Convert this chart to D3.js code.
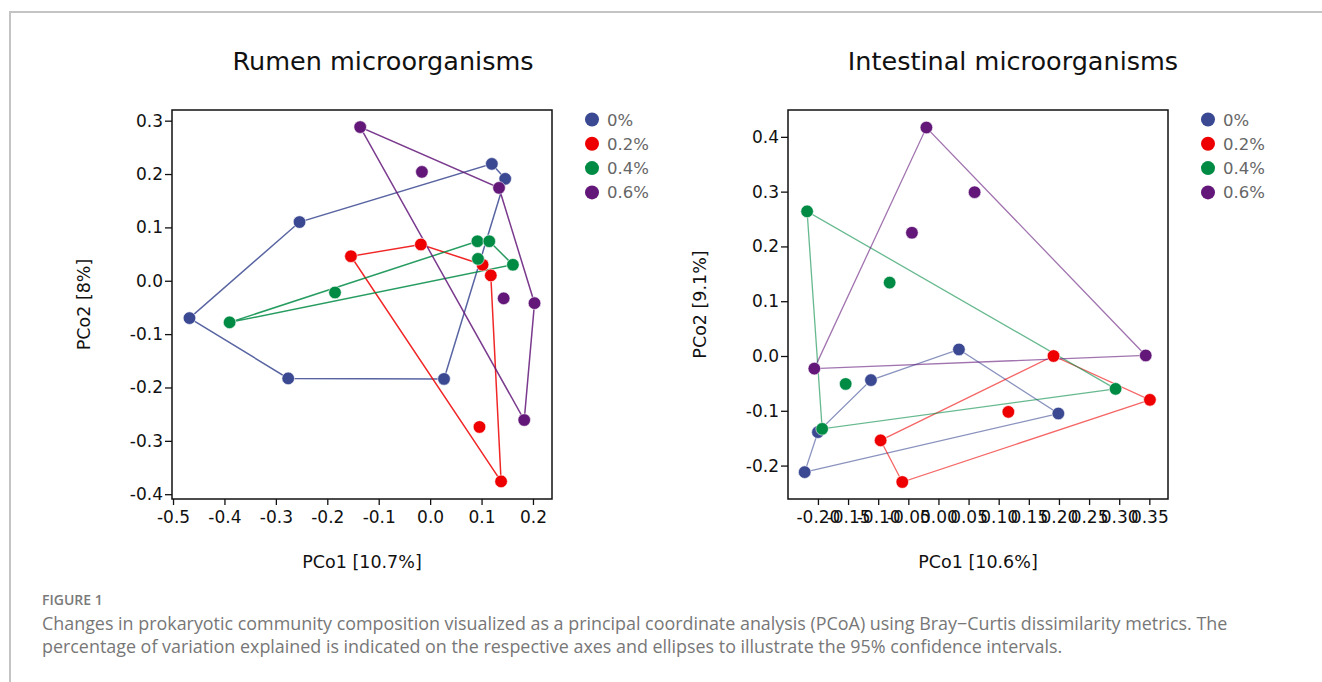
<!DOCTYPE html>
<html>
<head>
<meta charset="utf-8">
<script src="https://cdn.jsdelivr.net/npm/d3@7"></script>
<style>
  body { margin: 0; background: #fff; }
  svg { display: block; }
</style>
</head>
<body>
<svg width="1322" height="682"></svg>
<script>
// groups and colours
const groups = ["0%", "0.2%", "0.4%", "0.6%"];
const colors = ["#3B4992", "#EE0000", "#008B45", "#631879"];

// Rumen PCoA points, one array per group [PCo1, PCo2]
const rumen_0 = [[-0.468, -0.070], [-0.276, -0.183], [0.027, -0.184], [0.146, 0.191], [0.120, 0.219], [-0.254, 0.110]];
const rumen_02 = [[-0.154, 0.046], [-0.018, 0.068], [0.102, 0.030], [0.118, 0.010], [0.138, -0.376], [0.096, -0.274]];
const rumen_04 = [[-0.390, -0.078], [-0.185, -0.022], [0.092, 0.074], [0.115, 0.074], [0.093, 0.041], [0.161, 0.030]];
const rumen_06 = [[-0.136, 0.288], [-0.016, 0.204], [0.134, 0.174], [0.143, -0.033], [0.203, -0.042], [0.183, -0.261]];

// Intestinal PCoA points
const gut_0 = [[0.034, 0.012], [-0.112, -0.044], [0.199, -0.105], [-0.200, -0.139], [-0.222, -0.212]];
const gut_02 = [[0.191, 0.000], [0.351, -0.080], [0.116, -0.102], [-0.096, -0.154], [-0.060, -0.230]];
const gut_04 = [[-0.218, 0.264], [-0.081, 0.134], [-0.154, -0.051], [0.294, -0.060], [-0.193, -0.133]];
const gut_06 = [[-0.020, 0.417], [0.060, 0.299], [-0.044, 0.225], [0.344, 0.001], [-0.206, -0.023]];

// tick values
const rumenXTicks = [-0.5, -0.4, -0.3, -0.2, -0.1, 0.0, 0.1, 0.2];
const rumenYTicks = [0.3, 0.2, 0.1, 0.0, -0.1, -0.2, -0.3, -0.4];
const gutXTicks = [-0.20, -0.15, -0.10, -0.05, 0.00, 0.05, 0.10, 0.15, 0.20, 0.25, 0.30, 0.35];
const gutYTicks = [0.4, 0.3, 0.2, 0.1, 0.0, -0.1, -0.2];

const svg = d3.select("svg");
const FONT = "'DejaVu Sans', sans-serif";

// page frame
svg.append("path")
  .attr("d", "M10,682 L10,12 L1322,12")
  .attr("fill", "none")
  .attr("stroke", "#c4c4c4")
  .attr("stroke-width", 2);

var drawPanel = function(cfg){
  const x = d3.scaleLinear().domain(cfg.xDomain).range([cfg.left, cfg.right]);
  const y = d3.scaleLinear().domain(cfg.yDomain).range([cfg.bottom, cfg.top]);
  const g = svg.append("g");

  g.append("text")
    .attr("x", cfg.titleX).attr("y", 70)
    .attr("text-anchor", "middle")
    .style("font-family", FONT).style("font-size", "25.5px")
    .attr("fill", "#111")
    .text(cfg.title);

  // axes, ticks outside the box
  const xAxis = d3.axisBottom(x).tickValues(cfg.xTicks).tickFormat(cfg.xFmt).tickSize(6).tickPadding(6);
  const yAxis = d3.axisLeft(y).tickValues(cfg.yTicks).tickFormat(d => d.toFixed(1)).tickSize(7).tickPadding(2);
  const gx = g.append("g").attr("transform", "translate(0," + cfg.bottom + ")").call(xAxis);
  const gy = g.append("g").attr("transform", "translate(" + cfg.left + ",0)").call(yAxis);
  [gx, gy].forEach(function(a){
    a.select(".domain").remove();
    a.selectAll("line").attr("stroke", "#111").attr("stroke-width", 1.3);
    a.selectAll("text").style("font-family", FONT).style("font-size", "17px").attr("fill", "#111");
  });

  g.append("rect")
    .attr("x", cfg.left).attr("y", cfg.top)
    .attr("width", cfg.right - cfg.left).attr("height", cfg.bottom - cfg.top)
    .attr("fill", "none").attr("stroke", "#111").attr("stroke-width", 1.5);

  g.append("text")
    .attr("x", (cfg.left + cfg.right) / 2).attr("y", 568)
    .attr("text-anchor", "middle")
    .style("font-family", FONT).style("font-size", "17.5px").attr("fill", "#111")
    .text(cfg.xLabel);
  g.append("text")
    .attr("transform", "translate(" + (cfg.left - 82) + "," + ((cfg.top + cfg.bottom) / 2) + ") rotate(-90)")
    .attr("text-anchor", "middle")
    .style("font-family", FONT).style("font-size", "17.5px").attr("fill", "#111")
    .text(cfg.yLabel);

  // hulls
  g.selectAll(".hull").data(cfg.sets).enter()
    .append("path")
    .attr("d", d => "M" + d3.polygonHull(d).map(p => [x(p[0]), y(p[1])]).join("L") + "Z")
    .attr("fill", "none")
    .attr("stroke", (d, i) => colors[i])
    .attr("stroke-width", cfg.lineW)
    .attr("stroke-opacity", cfg.lineOp);

  // points
  cfg.sets.forEach(function(set, i){
    g.selectAll(null).data(set).enter()
      .append("circle")
      .attr("cx", d => x(d[0])).attr("cy", d => y(d[1]))
      .attr("r", 6.3)
      .attr("fill", colors[i])
      .attr("stroke", "#fff").attr("stroke-width", 0.6);
  });

  // legend
  const lg = g.append("g").attr("transform", "translate(" + (cfg.right + 40) + ",0)");
  groups.forEach(function(name, i){
    const yy = 119.5 + i * 24.3;
    lg.append("circle").attr("cx", 0).attr("cy", yy).attr("r", 7).attr("fill", colors[i]);
    lg.append("text").attr("x", 15).attr("y", yy + 6)
      .style("font-family", FONT).style("font-size", "16.5px").attr("fill", "#666")
      .text(name);
  });
};

drawPanel({
  title: "Rumen microorganisms", titleX: 383,
  left: 172, right: 552, top: 110, bottom: 499,
  xDomain: [-0.502, 0.237], yDomain: [-0.409, 0.320],
  xTicks: rumenXTicks, yTicks: rumenYTicks, xFmt: d => d.toFixed(1),
  xLabel: "PCo1 [10.7%]", yLabel: "PCo2 [8%]",
  sets: [rumen_0, rumen_02, rumen_04, rumen_06],
  lineW: 1.5, lineOp: 0.85
});

drawPanel({
  title: "Intestinal microorganisms", titleX: 1013,
  left: 788, right: 1168, top: 110, bottom: 499,
  xDomain: [-0.2497, 0.381], yDomain: [-0.261, 0.449],
  xTicks: gutXTicks, yTicks: gutYTicks, xFmt: d => d.toFixed(2),
  xLabel: "PCo1 [10.6%]", yLabel: "PCo2 [9.1%]",
  sets: [gut_0, gut_02, gut_04, gut_06],
  lineW: 1.3, lineOp: 0.6
});

// caption
const CAP = "'Open Sans', sans-serif";
svg.append("text").attr("x", 42).attr("y", 605)
  .style("font-family", CAP).style("font-size", "14px").style("font-weight", "600")
  .attr("fill", "#7a7a7a").text("FIGURE 1");
svg.append("text").attr("x", 42).attr("y", 630)
  .style("font-family", CAP).style("font-size", "17.9px").attr("fill", "#777")
  .text("Changes in prokaryotic community composition visualized as a principal coordinate analysis (PCoA) using Bray\u2212Curtis dissimilarity metrics. The");
svg.append("text").attr("x", 42).attr("y", 653)
  .style("font-family", CAP).style("font-size", "17.9px").attr("fill", "#777")
  .text("percentage of variation explained is indicated on the respective axes and ellipses to illustrate the 95% confidence intervals.");
</script>
</body>
</html>
